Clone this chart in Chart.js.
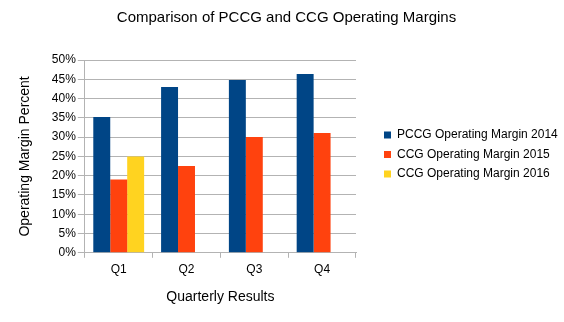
<!DOCTYPE html>
<html>
<head>
<meta charset="utf-8">
<script src="https://cdn.jsdelivr.net/npm/chart.js@4"></script>
<style>
html,body{margin:0;padding:0;background:#fff;}
#wrap{width:564px;height:322px;}
</style>
</head>
<body>
<div id="wrap"><canvas id="c" width="564" height="322"></canvas></div>
<script>
const categories = ["Q1", "Q2", "Q3", "Q4"];
const pccg2014 = [35.2, 43.0, 44.8, 46.4];
const ccg2015 = [19.0, 22.5, 30.0, 31.1];
const ccg2016 = [25.0, null, null, null];
const yTicks = [0, 5, 10, 15, 20, 25, 30, 35, 40, 45, 50];

const FONT = "'Liberation Sans', Arial, sans-serif";
const GRID = '#b3b3b3';
const PLOT_RIGHT = 356;
const LEGEND_ITEM_X = 384;
const LEGEND_PAD = 7.5;

const legendPlace = {
  id: 'legendPlace',
  afterInit(chart) {
    const lg = chart.legend;
    if (!lg) return;
    const orig = lg.fit.bind(lg);
    lg.fit = function () {
      orig();
      if (!this.isHorizontal()) this.width = chart.width - PLOT_RIGHT;
    };
  },
  afterLayout(chart) {
    const lg = chart.legend;
    if (lg) { lg.left = LEGEND_ITEM_X - LEGEND_PAD; lg.right = chart.width; }
  }
};

new Chart(document.getElementById('c'), {
  type: 'bar',
  data: {
    labels: categories,
    datasets: [
      {label: 'PCCG Operating Margin 2014', data: pccg2014, backgroundColor: '#004586'},
      {label: 'CCG Operating Margin 2015', data: ccg2015, backgroundColor: '#ff420e'},
      {label: 'CCG Operating Margin 2016', data: ccg2016, backgroundColor: '#ffd320'}
    ]
  },
  plugins: [legendPlace],
  options: {
    responsive: false,
    animation: false,
    layout: {padding: {left: 9, right: 0, top: 3, bottom: 16}},
    datasets: {bar: {categoryPercentage: 0.75, barPercentage: 1.0}},
    plugins: {
      title: {display: true, text: 'Comparison of PCCG and CCG Operating Margins', color: '#000',
        font: {family: FONT, size: 15, weight: 'normal'}, padding: {top: 6, bottom: 33}},
      legend: {position: 'right', align: 'center', maxWidth: 400,
        labels: {boxWidth: 7, boxHeight: 7, color: '#000', font: {family: FONT, size: 12}, padding: LEGEND_PAD}},
      tooltip: {enabled: false}
    },
    scales: {
      x: {
        grid: {display: true, drawOnChartArea: true, offset: true,
          color: c => c.index === categories.length ? GRID : 'rgba(0,0,0,0)',
          tickColor: GRID, tickLength: 5},
        border: {display: true, color: GRID},
        ticks: {color: '#000', font: {family: FONT, size: 12}, padding: 5},
        title: {display: true, text: 'Quarterly Results', color: '#000', font: {family: FONT, size: 14}, padding: {top: 7, bottom: 0}}
      },
      y: {
        min: 0, max: 50,
        afterBuildTicks: ax => { ax.ticks = yTicks.map(v => ({value: v})); },
        grid: {color: GRID, tickColor: GRID, tickLength: 7},
        border: {display: true, color: GRID},
        ticks: {color: '#000', font: {family: FONT, size: 12}, padding: 2, callback: v => v + '%'},
        title: {display: true, text: 'Operating Margin Percent', color: '#000', font: {family: FONT, size: 14}, padding: {top: 8, bottom: 16}}
      }
    }
  }
});
</script>
</body>
</html>
